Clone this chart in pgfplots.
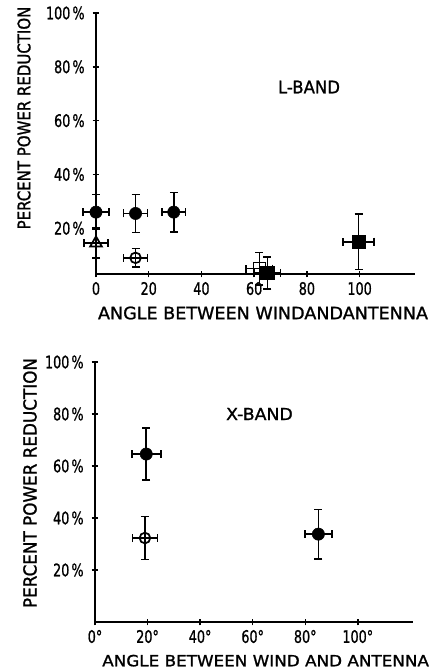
\documentclass[border=0pt]{standalone}
\usepackage{pgfplots}
\pgfplotsset{compat=1.18}
\usepackage{fontspec}
\setmainfont{DejaVu Sans}
\newfontfamily\lett{DejaVu Sans}[FakeBold=1.2]
\newcommand\tl[1]{\scalebox{0.74}[1]{\resizebox{!}{9.6pt}{\lett #1}}}
\pgfplotsset{
  chart/.style={
    scale only axis,
    axis x line=bottom, axis y line=left,
    axis line style={-, line width=1.2pt},
    tick style={line width=1.1pt, black},
    tick align=center,
    major tick length=5pt,
    clip=false,
    xmin=0, xmax=121, ymax=100,
    ytick={20,40,60,80,100},
    yticklabels={\tl{20\,\%},\tl{40\,\%},\tl{60\,\%},\tl{80\,\%},\tl{100\,\%}},
    yticklabel style={xshift=-2.5pt},
    xtick={0,20,40,60,80,100},
    error bars/error bar style={line width=1.2pt, black},
    error bars/error mark options={rotate=90, mark size=3pt, line width=1.2pt, black},
  },
  pts/.style={only marks, black,
    error bars/x dir=both, error bars/x explicit,
    error bars/y dir=both, error bars/y explicit},
}
\begin{document}
\begin{tikzpicture}
% ---------------- L-BAND ----------------
\begin{axis}[chart, at={(72pt,-205.5pt)}, anchor=south west,
  width=239.25pt, height=195.75pt, ymin=3,
  xticklabels={\tl{0},\tl{20},\tl{40},\tl{60},\tl{80},\tl{100}}]
% open square
\addplot+[pts, mark=square, mark size=4.5pt, mark options={fill=white, line width=1.3pt, draw=black}]
  coordinates {(62,5) +- (5,6)};
% filled circles
\addplot+[pts, mark=*, mark size=4.6pt, mark options={fill=black, draw=black}]
  coordinates {(0,26) +- (5,6.5) (15,25.5) +- (4.5,7) (29.5,26) +- (4.5,7.3)};
% open triangle
\addplot+[pts, mark=triangle, mark size=5pt, mark options={fill=white, line width=1.3pt, draw=black}]
  coordinates {(0,14.5) +- (4.5,5.5)};
% open circle
\addplot+[pts, mark=o, mark size=4pt, mark options={fill=white, line width=1.3pt, draw=black}]
  coordinates {(15,9) +- (4.5,3.5)};
% filled squares
\addplot+[pts, mark=square*, mark size=5pt, mark options={fill=black, draw=black}]
  coordinates {(65,3.4) +- (5,6) (99.6,15) +- (5.8,10.3)};
\end{axis}
% ---------------- X-BAND ----------------
\begin{axis}[chart, at={(71.25pt,-466.5pt)}, anchor=south west,
  width=238.5pt, height=195pt, ymin=0,
  xticklabels={\tl{0°},\tl{20°},\tl{40°},\tl{60°},\tl{80°},\tl{100°}}]
\addplot+[pts, mark=*, mark size=4.6pt, mark options={fill=black, draw=black}]
  coordinates {(19.5,64.6) +- (5.5,10) (85,33.8) +- (5.2,9.5)};
\addplot+[pts, mark=o, mark size=4pt, mark options={fill=white, line width=1.3pt, draw=black}]
  coordinates {(19,32.3) +- (4.8,8.3)};
\end{axis}
% ---------------- labels ----------------
\node at (197.25pt,-234.75pt) {\resizebox{247.5pt}{9.5pt}{\lett ANGLE BETWEEN WINDANDANTENNA}};
\node[rotate=90] at (18pt,-88.5pt) {\resizebox{167pt}{9.75pt}{\lett PERCENT POWER REDUCTION}};
\node at (231.75pt,-65.25pt) {\resizebox{46.5pt}{9.5pt}{\lett L-BAND}};
\node[rotate=90] at (22.5pt,-362.25pt) {\resizebox{187.5pt}{10pt}{\lett PERCENT POWER REDUCTION}};
\node at (194.6pt,-310.5pt) {\resizebox{50pt}{9pt}{\lett X-BAND}};
\node[anchor=west, inner sep=0pt] at (76.5pt,-495.5pt) {\resizebox{245pt}{8.6pt}{\lett ANGLE BETWEEN WIND AND ANTENNA}};
\pgfresetboundingbox
\useasboundingbox (0,0) rectangle (324.75pt,-501.75pt);
\end{tikzpicture}
\end{document}
